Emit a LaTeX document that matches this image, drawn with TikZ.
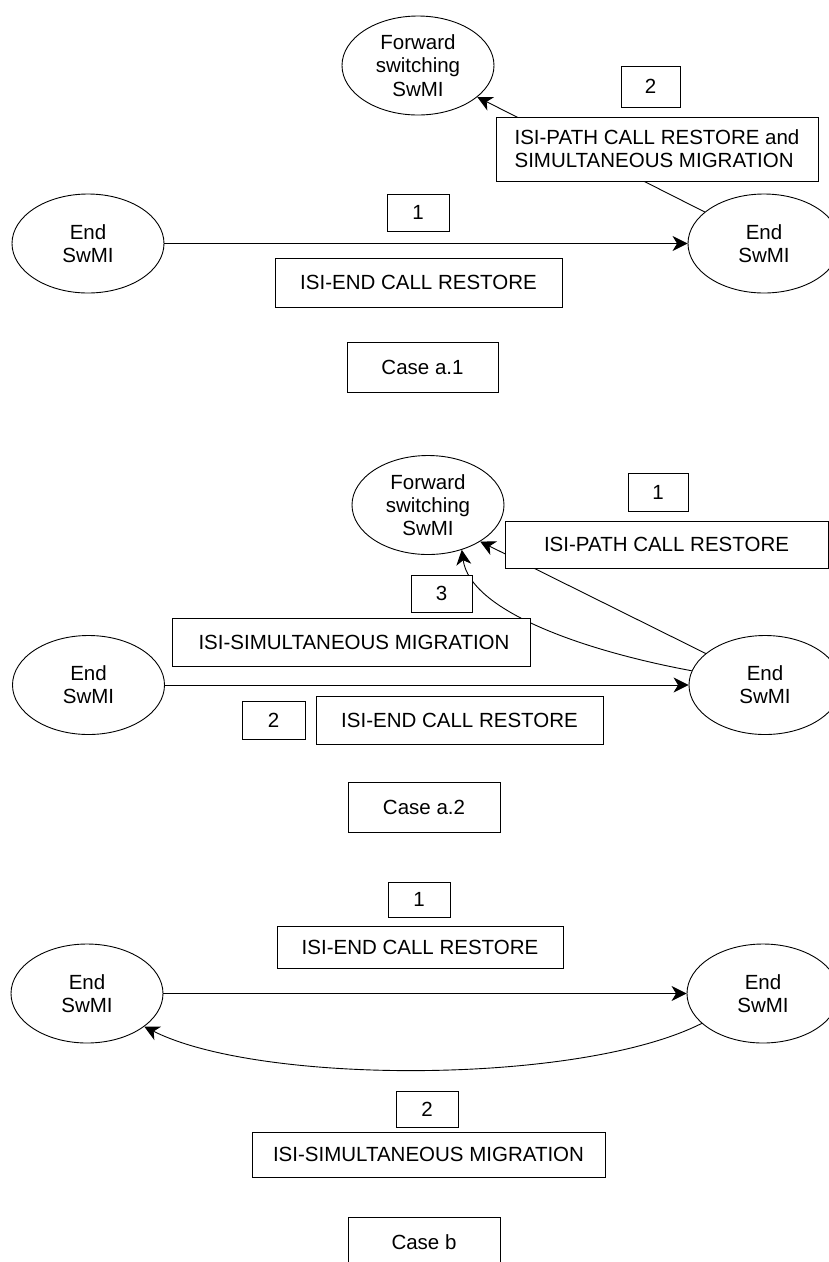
\documentclass[tikz,border=0pt]{standalone}
\usepackage{fontspec}
\setmainfont{Liberation Sans}
\usetikzlibrary{shapes.geometric,arrows.meta}
\tikzset{
  sw/.style={ellipse,draw,line width=0.9pt,minimum width=152pt,minimum height=99pt,inner sep=0pt,align=center},
  bx/.style={rectangle,draw,line width=0.9pt,fill=white,inner sep=0pt},
  arr/.style={line width=0.9pt,-{Stealth[length=15pt,width=15pt,inset=4.5pt]}},
  ln/.style={line width=0.9pt}
}
\begin{document}
\begin{tikzpicture}[x=1pt,y=-1pt,font=\fontsize{20.5}{23.3}\selectfont]
\useasboundingbox (0,0) rectangle (829,1262);
\fill[white] (0,0) rectangle (829,1262);
% ---------- Case a.1
\node[sw] (F1) at (418,65.5) {Forward\\switching\\SwMI};
\node[sw] (L1) at (88,243.5) {End\\SwMI};
\node[sw] (R1) at (764,243.5) {End\\SwMI};
\draw[arr] (L1.east) -- (R1.west);
\draw[arr] (R1.152) -- (F1.332);
\node[bx,minimum width=59pt,minimum height=41pt] (n2a) at (650.5,86.5) {2};
\node[bx,minimum width=322pt,minimum height=64pt,align=left] (pathA) at (657,149) {ISI-PATH CALL RESTORE and\\SIMULTANEOUS MIGRATION};
\node[bx,minimum width=62pt,minimum height=37pt] (n1a) at (418,212.5) {1};
\node[bx,minimum width=287pt,minimum height=49pt] (endA) at (418.5,282.5) {ISI-END CALL RESTORE\hspace{15pt}};
\node[bx,minimum width=151pt,minimum height=50pt] (caseA1) at (422.5,367) {Case a.1};
% ---------- Case a.2
\node[sw] (F2) at (428,505) {Forward\\switching\\SwMI};
\node[sw] (L2) at (88.5,685) {End\\SwMI};
\node[sw] (R2) at (765,685) {End\\SwMI};
\draw[arr] (L2.east) -- (R2.west);
\draw[arr] (R2.152) -- (F2.325);
\draw[arr] (R2.169) .. controls (580,650) and (470,610) .. (F2.307);
\node[bx,minimum width=60pt,minimum height=38pt] (n1b) at (658,492) {1};
\node[bx,minimum width=323pt,minimum height=47pt] (pathB) at (666.5,544.5) {ISI-PATH CALL RESTORE};
\node[bx,minimum width=61pt,minimum height=37pt] (n3b) at (441.5,593.5) {3};
\node[bx,minimum width=358pt,minimum height=48pt] (simB) at (351,642) {\hspace{6pt}ISI-SIMULTANEOUS MIGRATION};
\node[bx,minimum width=63pt,minimum height=38pt] (n2b) at (273.5,720) {2};
\node[bx,minimum width=287pt,minimum height=48pt] (endB) at (459.5,720) {ISI-END CALL RESTORE\hspace{15pt}};
\node[bx,minimum width=152pt,minimum height=50pt] (caseA2) at (424,807) {Case a.2};
% ---------- Case b
\node[sw] (L3) at (87,993.5) {End\\SwMI};
\node[sw] (R3) at (763,993.5) {End\\SwMI};
\draw[arr] (L3.east) -- (R3.west);
\draw[arr] (R3.206) .. controls (580,1085) and (260,1085) .. (L3.330);
\node[bx,minimum width=62pt,minimum height=35pt] (n1c) at (419,899.5) {1};
\node[bx,minimum width=286pt,minimum height=42pt] (endC) at (420,947) {ISI-END CALL RESTORE\hspace{16pt}};
\node[bx,minimum width=62pt,minimum height=36pt] (n2c) at (427,1109) {2};
\node[bx,minimum width=353pt,minimum height=45pt] (simC) at (428.5,1154.5) {ISI-SIMULTANEOUS MIGRATION};
\node[bx,minimum width=152pt,minimum height=50pt] (caseB) at (424,1242) {Case b};
\end{tikzpicture}
\end{document}
